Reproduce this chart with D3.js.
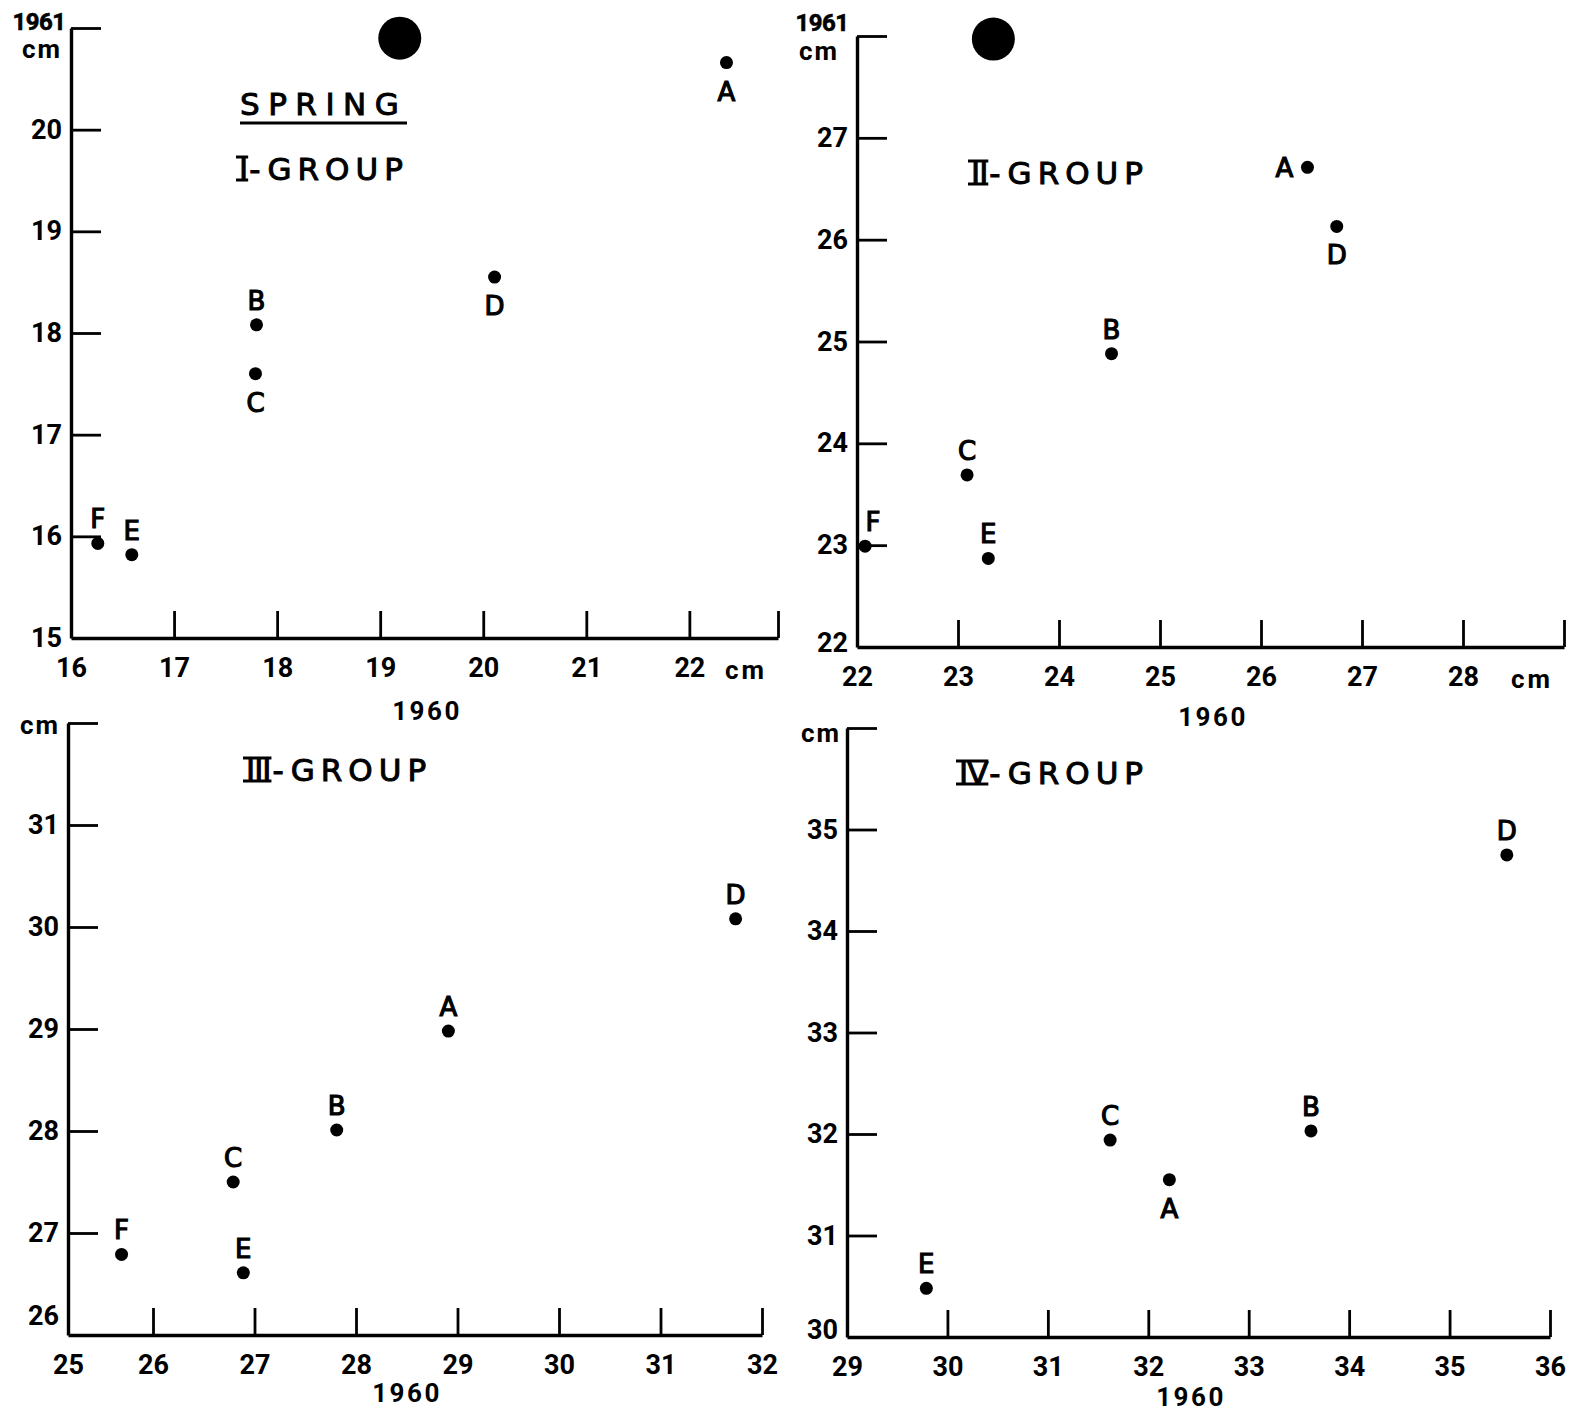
<!DOCTYPE html>
<html>
<head>
<meta charset="utf-8">
<script src="https://cdn.jsdelivr.net/npm/d3@7"></script>
<style>
  body { margin: 0; background: #fff; }
  svg text { fill: #000; }
</style>
</head>
<body>
<div id="chart"></div>
<script>
//////////////////////////////////////////////////////////////
/////////////////////////// Data /////////////////////////////
//////////////////////////////////////////////////////////////

// Group I (x = 1960, y = 1961, cm)
const letters1 = ["A", "B", "C", "D", "E", "F"];
const x1960_1 = [22.36, 17.80, 17.79, 20.11, 16.59, 16.26];
const y1961_1 = [20.66, 18.08, 17.60, 18.55, 15.82, 15.93];

// Group II
const letters2 = ["A", "B", "C", "D", "E", "F"];
const x1960_2 = [26.46, 24.52, 23.09, 26.75, 23.30, 22.08];
const y1961_2 = [26.71, 24.88, 23.69, 26.13, 22.87, 22.99];

// Group III
const letters3 = ["A", "B", "C", "D", "E", "F"];
const x1960_3 = [28.91, 27.81, 26.79, 31.74, 26.89, 25.63];
const y1961_3 = [28.98, 28.01, 27.50, 30.08, 26.61, 26.79];

// Group IV
const letters4 = ["A", "B", "C", "D", "E"];
const x1960_4 = [32.21, 33.62, 31.62, 35.57, 29.79];
const y1961_4 = [31.55, 32.03, 31.94, 34.75, 30.48];

// Letters written under the dot (the rest sit above it, "left" = beside it)
const labelsBelow = { 1: ["A", "C", "D"], 2: ["D"], 3: [], 4: ["A"] };
const labelsLeft  = { 1: [], 2: ["A"], 3: [], 4: [] };

// Tick labels
const xTicks1 = [16, 17, 18, 19, 20, 21, 22];
const yTicks1 = [15, 16, 17, 18, 19, 20];
const xTicks2 = [22, 23, 24, 25, 26, 27, 28];
const yTicks2 = [22, 23, 24, 25, 26, 27];
const xTicks3 = [25, 26, 27, 28, 29, 30, 31, 32];
const yTicks3 = [26, 27, 28, 29, 30, 31];
const xTicks4 = [29, 30, 31, 32, 33, 34, 35, 36];
const yTicks4 = [30, 31, 32, 33, 34, 35];

// The two large black blots at the top of the upper panels (data coords)
const blots = [
  { panel: 1, x: 19.19, y: 20.90 },
  { panel: 2, x: 23.35, y: 27.97 }
];

//////////////////////////////////////////////////////////////
////////////////////////// Layout ////////////////////////////
//////////////////////////////////////////////////////////////

const W = 1570, H = 1414;
const tickFont = 'Roboto, "DejaVu Sans", sans-serif';
const titleFont = '"DejaVu Sans", sans-serif';

const panels = [
  { id: 1, numeral: "I", letters: letters1, xs: x1960_1, ys: y1961_1,
    xDomain: [16, 22.86], xRange: [71, 778], yDomain: [15, 21], yRange: [638, 28],
    xTicks: xTicks1, yTicks: yTicks1, xEndCm: true, bottomShift: 0,
    unitPos: [39, 30, 42, 58], titleX: 239, titleY: 180, xLabel: [427, 720] },
  { id: 2, numeral: "II", letters: letters2, xs: x1960_2, ys: y1961_2,
    xDomain: [22, 29], xRange: [857, 1564], yDomain: [22, 28], yRange: [647, 36],
    xTicks: xTicks2, yTicks: yTicks2, xEndCm: true, bottomShift: -4,
    unitPos: [822, 31, 819, 60], titleX: 971, titleY: 184, xLabel: [1213, 726] },
  { id: 3, numeral: "III", letters: letters3, xs: x1960_3, ys: y1961_3,
    xDomain: [25, 26, 32], xRange: [68, 153, 762], yDomain: [26, 32], yRange: [1335, 723],
    xTicks: xTicks3, yTicks: yTicks3, xEndCm: false, bottomShift: -19,
    unitPos: [null, null, 40, 734], titleX: 246, titleY: 781, xLabel: [407, 1402] },
  { id: 4, numeral: "IV", letters: letters4, xs: x1960_4, ys: y1961_4,
    xDomain: [29, 36], xRange: [847, 1550], yDomain: [30, 36], yRange: [1337, 728],
    xTicks: xTicks4, yTicks: yTicks4, xEndCm: false, bottomShift: -7,
    unitPos: [null, null, 821, 742], titleX: 959, titleY: 784, xLabel: [1191, 1406] }
];

const svg = d3.select("#chart").append("svg")
  .attr("width", W)
  .attr("height", H)
  .style("background", "#fff");

function boldText(sel, size) {
  return sel.style("font-family", tickFont)
    .style("font-weight", "bold")
    .style("font-size", size + "px");
}

panels.forEach(p => {
  const x = d3.scaleLinear().domain(p.xDomain).range(p.xRange);
  const y = d3.scaleLinear().domain(p.yDomain).range(p.yRange);
  const x0 = p.xRange[0], y0 = p.yRange[0];
  const xMax = p.xDomain[p.xDomain.length - 1];
  const yMax = p.yDomain[1];

  const g = svg.append("g").attr("class", "panel" + p.id);

  //////////////////////// X axis ////////////////////////
  const xAxis = d3.axisBottom(x)
    .tickValues(p.xEndCm ? p.xTicks.concat([xMax]) : p.xTicks)
    .tickFormat(d => (p.xEndCm && d === xMax) ? "" : d3.format("d")(d))
    .tickSizeInner(-27)
    .tickSizeOuter(0)
    .tickPadding(13);

  const gx = g.append("g")
    .attr("transform", "translate(0," + y0 + ")")
    .call(xAxis)
    .attr("font-family", null)
    .attr("font-size", null);
  gx.select(".domain").attr("stroke-width", 3.4);
  gx.selectAll(".tick line").attr("stroke-width", 2.8);
  boldText(gx.selectAll(".tick text"), 27).attr("dy", "0.95em");
  // origin tick is the y axis itself
  gx.selectAll(".tick").filter(d => d === p.xDomain[0]).select("line").remove();

  if (p.xEndCm) {
    boldText(g.append("text"), 26)
      .attr("x", x(xMax) - 32)
      .attr("y", y0 + 41)
      .attr("text-anchor", "middle")
      .style("letter-spacing", "3px")
      .text("cm");
  }

  //////////////////////// Y axis ////////////////////////
  const yAxis = d3.axisLeft(y)
    .tickValues(p.yTicks.concat([yMax]))
    .tickFormat(d => d === yMax ? "" : d3.format("d")(d))
    .tickSizeInner(-30)
    .tickSizeOuter(0)
    .tickPadding(9);

  const gy = g.append("g")
    .attr("transform", "translate(" + x0 + ",0)")
    .call(yAxis)
    .attr("font-family", null)
    .attr("font-size", null);
  gy.select(".domain").attr("stroke-width", 3.4);
  gy.selectAll(".tick line").attr("stroke-width", 2.8);
  gy.selectAll(".tick").filter(d => d === p.yDomain[0]).select("line").remove();
  boldText(gy.selectAll(".tick text"), 27);
  gy.selectAll(".tick").filter(d => d === p.yDomain[0]).select("text")
    .attr("y", p.bottomShift);

  // unit labels at the top of the y axis
  if (p.unitPos[0] !== null) {
    boldText(g.append("text"), 24)
      .attr("x", p.unitPos[0]).attr("y", p.unitPos[1])
      .attr("text-anchor", "middle")
      .attr("stroke", "#000").attr("stroke-width", 0.6)
      .style("letter-spacing", "-0.5px")
      .text("1961");
  }
  boldText(g.append("text"), 26)
    .attr("x", p.unitPos[2]).attr("y", p.unitPos[3])
    .attr("text-anchor", "middle")
    .style("letter-spacing", "2px")
    .text("cm");

  // x axis year
  boldText(g.append("text"), 26)
    .attr("x", p.xLabel[0]).attr("y", p.xLabel[1])
    .attr("text-anchor", "middle")
    .style("letter-spacing", "2.5px")
    .text("1960");

  //////////////////////// Titles ////////////////////////
  if (p.id === 1) {
    g.append("text")
      .attr("x", 240).attr("y", 115)
      .style("font-family", titleFont).style("font-size", "31px")
      .style("letter-spacing", "8.5px")
      .attr("stroke", "#000").attr("stroke-width", 1)
      .text("SPRING");
    g.append("line")
      .attr("x1", 240).attr("x2", 407)
      .attr("y1", 123).attr("y2", 123)
      .attr("stroke", "#000").attr("stroke-width", 3);
  }

  const num = g.append("text")
    .attr("x", p.titleX).attr("y", p.titleY)
    .style("font-family", titleFont).style("font-size", "31px")
    .style("letter-spacing", "-1px")
    .attr("stroke", "#000").attr("stroke-width", 1)
    .text(p.numeral);
  const nw = num.node().getComputedTextLength();
  g.append("text")
    .attr("x", p.titleX + nw + 2).attr("y", p.titleY)
    .style("font-family", titleFont).style("font-size", "31px")
    .style("letter-spacing", "6px")
    .attr("stroke", "#000").attr("stroke-width", 1)
    .text("-GROUP");
  // serif bars of the Roman numeral
  [p.titleY - 23, p.titleY].forEach(yy => {
    g.append("line")
      .attr("x1", p.titleX - 3).attr("x2", p.titleX + nw + 1)
      .attr("y1", yy).attr("y2", yy)
      .attr("stroke", "#000").attr("stroke-width", 3);
  });

  //////////////////////// Points ////////////////////////
  const pts = p.letters.map((l, i) => ({ l: l, x: p.xs[i], y: p.ys[i] }));

  g.selectAll(".dot")
    .data(pts)
    .enter().append("circle")
    .attr("class", "dot")
    .attr("cx", d => x(d.x))
    .attr("cy", d => y(d.y))
    .attr("r", 6.5)
    .attr("fill", "#000");

  g.selectAll(".pointLabel")
    .data(pts)
    .enter().append("text")
    .attr("class", "pointLabel")
    .attr("text-anchor", "middle")
    .attr("x", d => {
      if (labelsLeft[p.id].includes(d.l)) return x(d.x) - 23;
      // F of group II sits just right of the y axis
      return (p.id === 2 && d.l === "F") ? x(d.x) + 8 : x(d.x);
    })
    .attr("y", d => {
      if (labelsLeft[p.id].includes(d.l)) return y(d.y) + 10;
      if (labelsBelow[p.id].includes(d.l)) return y(d.y) + 38;
      return y(d.y) - 15;
    })
    .style("font-family", titleFont)
    .style("font-size", "26px")
    .attr("stroke", "#000").attr("stroke-width", 1.2)
    .text(d => d.l);

  //////////////////////// Blots ////////////////////////
  g.selectAll(".blot")
    .data(blots.filter(b => b.panel === p.id))
    .enter().append("circle")
    .attr("class", "blot")
    .attr("cx", d => x(d.x))
    .attr("cy", d => y(d.y))
    .attr("r", 21.5)
    .attr("fill", "#000");
});
</script>
</body>
</html>
